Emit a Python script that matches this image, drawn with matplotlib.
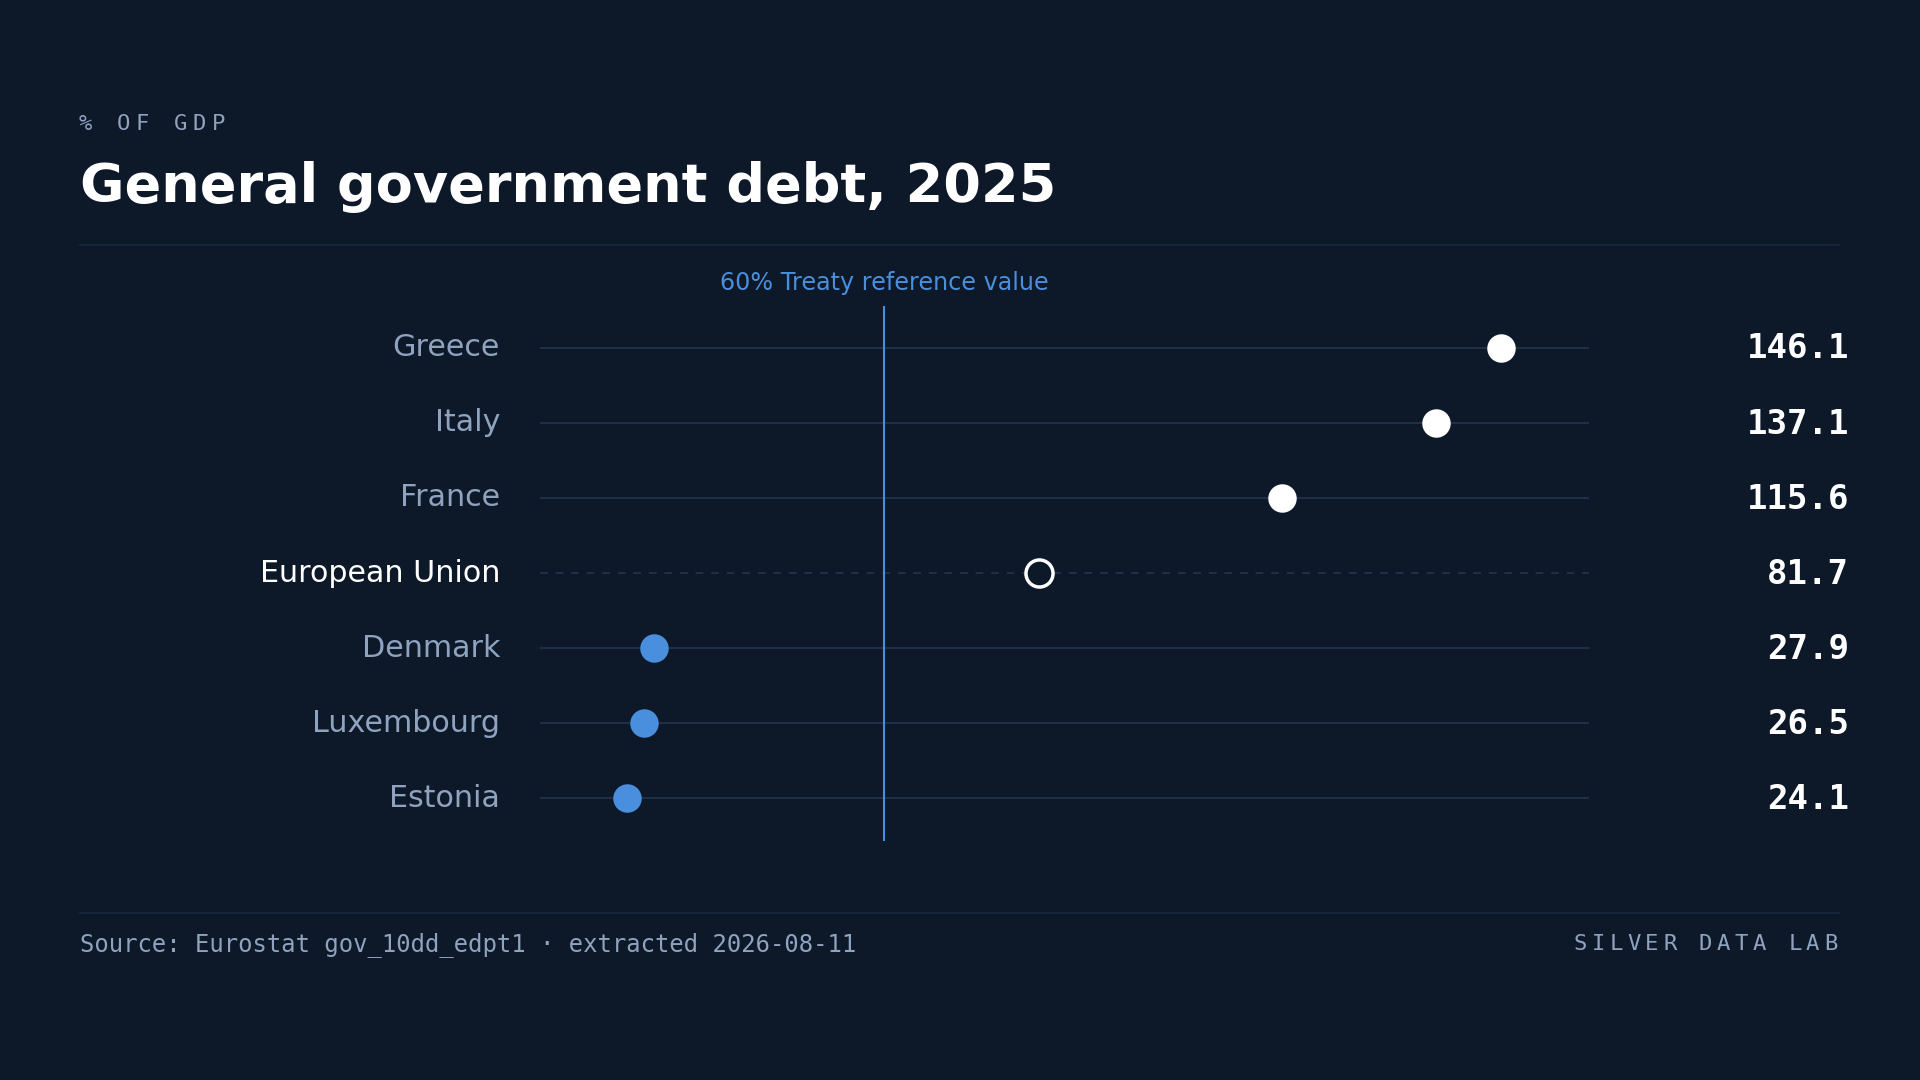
import matplotlib
matplotlib.use("Agg")
import matplotlib.pyplot as plt
from matplotlib.lines import Line2D

countries = ["Greece", "Italy", "France", "European Union", "Denmark", "Luxembourg", "Estonia"]
values = [146.1, 137.1, 115.6, 81.7, 27.9, 26.5, 24.1]
reference = 60

BG = "#0d1829"; GRID = "#1f3048"; BLUE = "#4a8fdd"; GREY = "#8fa3bf"; WHITE = "#ffffff"
W, H = 1568, 882
fig = plt.figure(figsize=(19.2, 10.8), dpi=100, facecolor=BG)
ax = fig.add_axes([441/W, 1-687/H, (1298-441)/W, (687-250)/H])
ax.set_facecolor(BG)
ax.set_xlim(12, 158.5)
ax.set_ylim(6.57, -0.554)
ax.axis("off")

for i, (c, v) in enumerate(zip(countries, values)):
    eu = c == "European Union"
    ax.plot([12, 158.5], [i, i], color=GRID, lw=1.4, ls=(0, (4, 4)) if eu else "-", zorder=1)
    if eu:
        ax.scatter([v], [i], s=380, facecolor=BG, edgecolor=WHITE, linewidth=2.5, zorder=3)
    else:
        col = WHITE if v > reference else BLUE
        ax.scatter([v], [i], s=420, color=col, zorder=3, linewidth=0)
    ax.text(-0.038, i, c, transform=ax.get_yaxis_transform(), ha="right", va="center",
            fontsize=21.7, color=WHITE if eu else GREY)
    fig.text(1510/W, 1-(285+61.33*i)/H, f"{v:.1f}", ha="right", va="center",
             fontsize=24.5, fontweight="bold", family="DejaVu Sans Mono", color=WHITE)

ax.axvline(reference, color=BLUE, lw=1.5, zorder=2)
ax.text(reference, -0.86, "60% Treaty reference value", ha="center", va="center",
        fontsize=17.2, color=BLUE)

def spaced(text, x0, y, step, ha="left"):
    n = len(text)
    if ha == "right":
        x0 = x0 - step * (n - 1)
    for k, ch in enumerate(text):
        fig.text((x0 + k * step) / W, 1 - y / H, ch, fontsize=16, family="DejaVu Sans Mono",
                 color=GREY, va="center", ha="center")

spaced("% OF GDP", 65 + 5, 101, 15.5)
fig.text(65/W, 1-153/H, "General government debt, 2025", fontsize=39, fontweight="bold",
         color=WHITE, va="center", ha="left")
fig.add_artist(Line2D([65/W, 1502/W], [1-200/H]*2, color="#1a2840", lw=1.2))
fig.add_artist(Line2D([65/W, 1502/W], [1-746/H]*2, color="#1a2840", lw=1.2))
fig.text(65/W, 1-771/H, "Source: Eurostat gov_10dd_edpt1 · extracted 2026-08-11", fontsize=17.2,
         family="DejaVu Sans Mono", color=GREY, va="center", ha="left")
spaced("SILVER DATA LAB", 1502 - 7, 771, 14.6, ha="right")
fig.savefig("out.png", facecolor=BG)
